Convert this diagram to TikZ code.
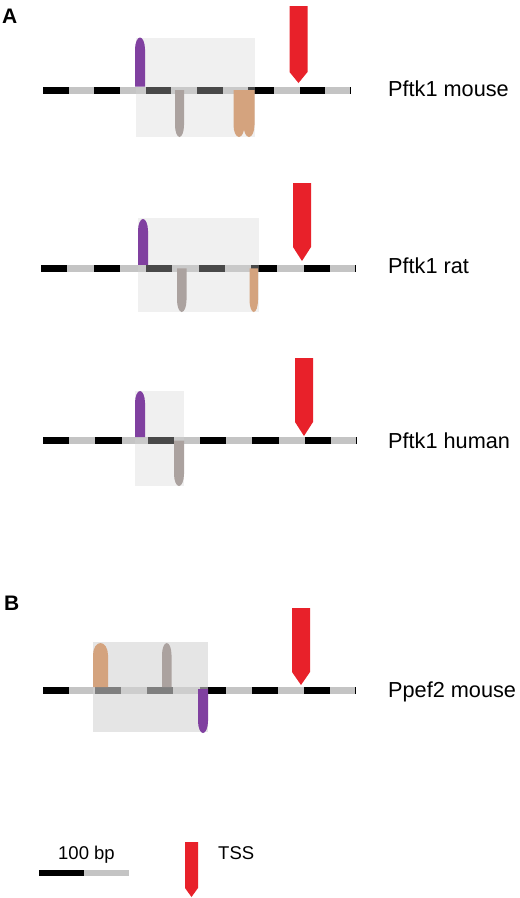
\documentclass[tikz,border=0pt]{standalone}
\usepackage{fontspec}
\setmainfont{Liberation Sans}
\usepackage{tikz}
\usetikzlibrary{positioning}
\definecolor{motifpurple}{HTML}{8040A0}
\definecolor{motifgray}{HTML}{ABA29F}
\definecolor{motiftan}{HTML}{D4A37E}
\definecolor{tssred}{HTML}{E8212A}
\definecolor{seggray}{HTML}{C4C4C4}
\definecolor{boxgray}{gray}{0.83}
% motif bullets: colour, left x, width, base y, tip y
\newcommand{\upmark}[5]{\fill[#1] (#2,#4) -- (#2,{#5-12}) arc[start angle=180,end angle=0,x radius={#3/2},y radius=12] -- ({#2+#3},#4) -- cycle;}
\newcommand{\downmark}[5]{\fill[#1] (#2,#4) -- (#2,{#5+12}) arc[start angle=180,end angle=360,x radius={#3/2},y radius=12] -- ({#2+#3},#4) -- cycle;}

\begin{document}
\begin{tikzpicture}[
      x=1pt, y=1pt,
      gene/.style={anchor=base west, inner sep=0pt, font=\fontsize{21.7}{24}\selectfont},
      legend/.style={anchor=base, inner sep=0pt, font=\fontsize{18.5}{22}\selectfont},
      panel/.style={anchor=base west, inner sep=0pt, font=\fontsize{21}{24}\selectfont\bfseries},
      regionA/.style={fill=boxgray, fill opacity=0.35},
      regionB/.style={fill=boxgray, fill opacity=0.6}
    ]
      \useasboundingbox (0,0) rectangle (520,-898);
      %% promoter tracks: 12 alternating 25-bp blocks
      \foreach \ty/\xs/\xe in {-90/43/351, -268.3/41/356, -440.7/43/357, -690.7/43/356} {
        \pgfmathsetmacro\sl{(\xe-\xs)/12}
        \fill[seggray] (\xs,{\ty-3.5}) rectangle (\xe,{\ty+3.5});
        \foreach \k in {0,2,...,10}
          \fill ({\xs+\k*\sl},{\ty-3.5}) rectangle ++(\sl,7);
        \fill ({\xe-1.5},{\ty-3.5}) rectangle (\xe,{\ty+3.5});
      }
      %% conserved regions
      \fill[regionA] (136,-38) rectangle (255,-137);
      \fill[regionA] (138,-218) rectangle (259,-312);
      \fill[regionA] (135,-391) rectangle (184,-486);
      \fill[regionB] (93,-642) rectangle (208,-732);
      %% motifs
      \upmark{motifpurple}{135}{10}{-86.5}{-37.5}
      \downmark{motifgray}{175}{9}{-90}{-137}
      \downmark{motiftan}{233.5}{11}{-90}{-137}
      \downmark{motiftan}{243.5}{11}{-90}{-137}
      \upmark{motifpurple}{138}{10}{-264.8}{-219}
      \downmark{motifgray}{177}{9.5}{-268.3}{-312}
      \downmark{motiftan}{249.5}{8.5}{-268.3}{-312}
      \upmark{motifpurple}{135}{10}{-437.2}{-391}
      \downmark{motifgray}{174}{10}{-440.7}{-486}
      \upmark{motiftan}{93}{15}{-687.2}{-643}
      \upmark{motifgray}{162}{9.5}{-687.2}{-643}
      \downmark{motifpurple}{198}{10}{-689}{-733}
      %% TSS arrows
      \foreach \xc/\hw/\yt/\ys/\yp in {298.5/9/-6/-72/-83, 302/9/-183/-247/-261,
          304/9/-358/-422/-436, 301/9/-608/-672/-685, 191.5/6.5/-842/-888/-897}
        \fill[tssred] ({\xc-\hw},\yt) -- ({\xc+\hw},\yt) -- ({\xc+\hw},\ys)
          -- (\xc,\yp) -- ({\xc-\hw},\ys) -- cycle;
      %% labels
      \node[panel] (pA) at (2,-23) {A};
      \node[panel] (pB) at (4,-610) {B};
      \node[gene] (mouse) at (388,-96.7) {Pftk1 mouse};
      \node[gene] (rat) at (388,-273.3) {Pftk1 rat};
      \node[gene] (human) at (388,-448) {Pftk1 human};
      \node[gene] (ppef) at (388,-697) {Ppef2 mouse};
      %% scale bar and key
      \fill (39,-870) rectangle (84,-875.5);
      \fill[seggray] (84,-870) rectangle (129,-875.5);
      \node[legend] (bp) at (86.5,-859) {100 bp};
      \node[legend, anchor=base west] (tss) at (218,-859) {TSS};
    \end{tikzpicture}
\end{document}
